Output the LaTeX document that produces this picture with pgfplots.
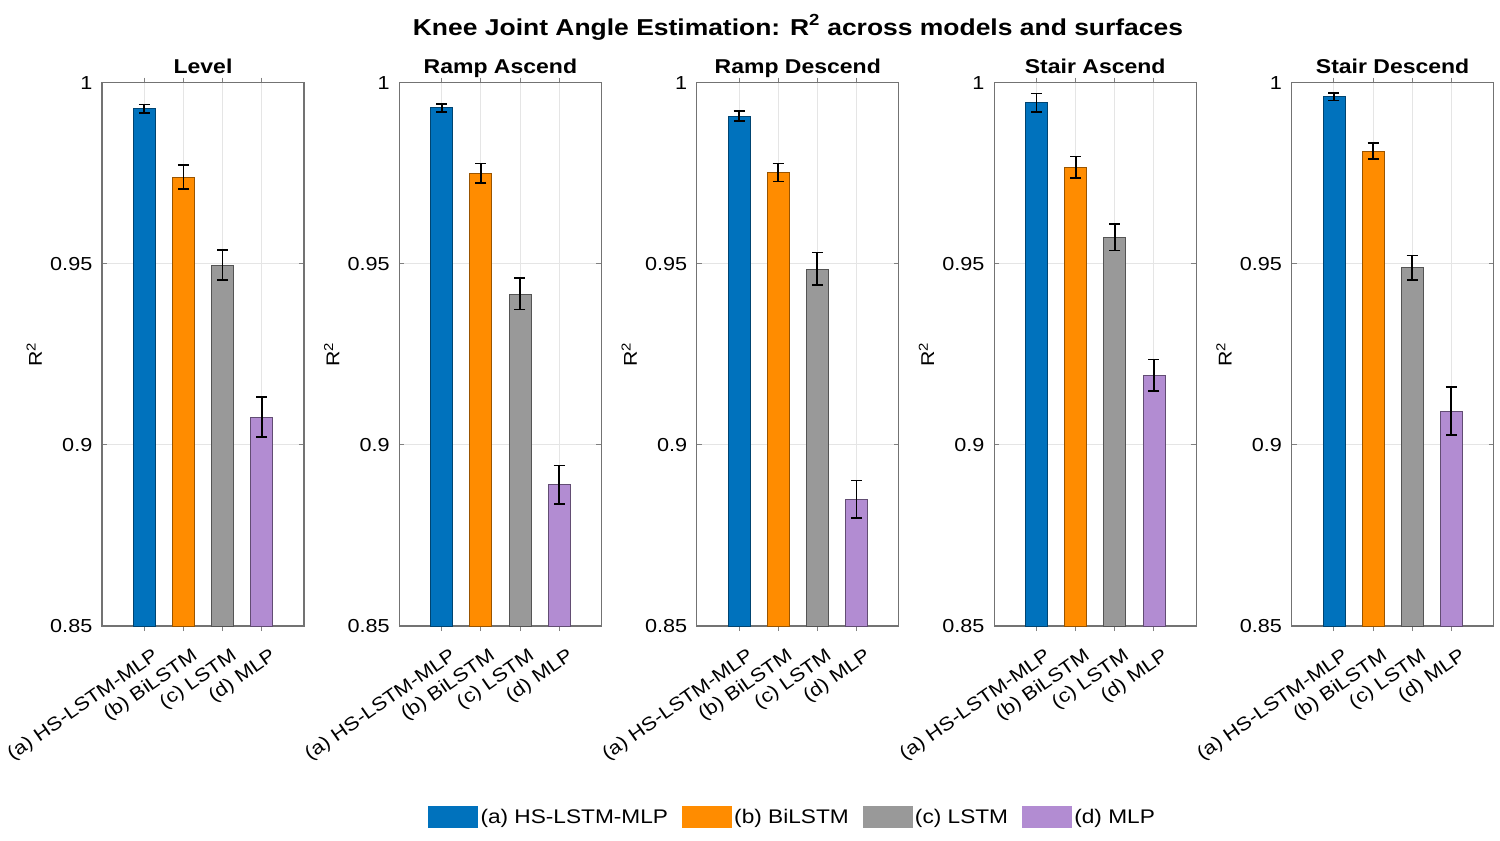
\documentclass[border=0pt]{standalone}
\usepackage{fontspec}
\setmainfont{Liberation Sans}[FakeStretch=1.15]
\usepackage{pgfplots}
\pgfplotsset{compat=1.18}
\definecolor{cA}{RGB}{0,114,189}
\definecolor{cB}{RGB}{255,140,0}
\definecolor{cC}{RGB}{153,153,153}
\definecolor{cD}{RGB}{178,140,210}
\pgfplotsset{
  panel/.style={
    scale only axis, width=202pt, height=543.3pt,
    anchor=south west,
    xmin=-0.08, xmax=5.08, ymin=0.85, ymax=1,
    xtick={1,2,3,4},
    xticklabels={(a) HS-LSTM-MLP,(b) BiLSTM,(c) LSTM,(d) MLP},
    ytick={0.85,0.9,0.95,1},
    yticklabels={0.85,0.9,0.95,1},
    tick align=inside, major tick length=5pt,
    major tick style={draw=black!50, line width=0.9pt},
    axis line style={draw=black!55, line width=1.1pt},
    grid=major, major grid style={draw=black!10, line width=0.9pt},
    tick label style={font=\fontsize{18.8}{22}\selectfont},
    y tick label style={inner sep=0pt, xshift=-9.5pt, anchor=east},
    x tick label style={rotate=35, anchor=north east, inner sep=1pt, yshift=-16pt, xshift=-2pt},
    title style={font=\bfseries\fontsize{20}{24}\selectfont, at={(0.5,1)}, anchor=base, yshift=3.5pt},
    ylabel={R\textsuperscript{2}},
    ylabel style={font=\fontsize{18.5}{22}\selectfont, at={(axis description cs:-0.335,0.5)}, anchor=center, rotate=0},
    ybar, bar width=22pt,
  },
  eb/.style={
    sharp plot, draw=none, mark=none, bar shift=0pt, forget plot,
    error bars/.cd, y dir=both, y explicit,
    error bar style={black, line width=1.8pt, draw=black},
    error mark=-,
    error mark options={rotate=90, black, draw=black, line width=1.8pt, mark size=5.5pt},
  },
  bA/.style={fill=cA, draw=cA!60!black, line width=0.7pt, bar shift=0pt,
    legend image code/.code={\fill[cA] (0pt,-10.6pt) rectangle (49pt,10.6pt);}},
  bB/.style={fill=cB, draw=cB!60!black, line width=0.7pt, bar shift=0pt,
    legend image code/.code={\fill[cB] (0pt,-10.6pt) rectangle (49pt,10.6pt);}},
  bC/.style={fill=cC, draw=cC!55!black, line width=0.7pt, bar shift=0pt,
    legend image code/.code={\fill[cC] (0pt,-10.6pt) rectangle (49pt,10.6pt);}},
  bD/.style={fill=cD, draw=cD!55!black, line width=0.7pt, bar shift=0pt,
    legend image code/.code={\fill[cD] (0pt,-10.6pt) rectangle (49pt,10.6pt);}},
}
\begin{document}
\begin{tikzpicture}
\useasboundingbox (0pt,0pt) rectangle (1500pt,-841pt);
\node[font=\bfseries\fontsize{23}{28}\selectfont, anchor=base] at (798pt,-35pt)
  {Knee Joint Angle Estimation: R\textsuperscript{2} across models and surfaces};

% Level
\begin{axis}[panel, at={(102pt,-626pt)}, title={Level},
  legend columns=4,
  legend style={draw=none, fill=none, inner sep=0pt,
    at={(axis description cs:1.6144,-0.351)}, anchor=west,
    font=\fontsize{19.7}{23}\selectfont,
    nodes={inner xsep=2.5pt, inner ysep=0pt},
    /tikz/every even column/.append style={column sep=11.5pt}}]
\addplot[bA] coordinates {(1,0.9928)};
\addplot[bB] coordinates {(2,0.9739)};
\addplot[bC] coordinates {(3,0.9497)};
\addplot[bD] coordinates {(4,0.9077)};
\addplot[eb] coordinates {(1,0.9928) +- (0,0.0012) (2,0.9739) +- (0,0.0033) (3,0.9497) +- (0,0.0042) (4,0.9077) +- (0,0.0055)};
\legend{(a) HS-LSTM-MLP,(b) BiLSTM,(c) LSTM,(d) MLP}
\end{axis}

% Ramp Ascend
\begin{axis}[panel, at={(399.4pt,-626pt)}, title={Ramp Ascend}]
\addplot[bA] coordinates {(1,0.9931)};
\addplot[bB] coordinates {(2,0.9750)};
\addplot[bC] coordinates {(3,0.9417)};
\addplot[bD] coordinates {(4,0.8890)};
\addplot[eb] coordinates {(1,0.9931) +- (0,0.0011) (2,0.9750) +- (0,0.0027) (3,0.9417) +- (0,0.0043) (4,0.8890) +- (0,0.0053)};
\end{axis}

% Ramp Descend
\begin{axis}[panel, at={(696.8pt,-626pt)}, title={Ramp Descend}]
\addplot[bA] coordinates {(1,0.9908)};
\addplot[bB] coordinates {(2,0.9752)};
\addplot[bC] coordinates {(3,0.9486)};
\addplot[bD] coordinates {(4,0.8850)};
\addplot[eb] coordinates {(1,0.9908) +- (0,0.0013) (2,0.9752) +- (0,0.0025) (3,0.9486) +- (0,0.0045) (4,0.8850) +- (0,0.0052)};
\end{axis}

% Stair Ascend
\begin{axis}[panel, at={(994.2pt,-626pt)}, title={Stair Ascend}]
\addplot[bA] coordinates {(1,0.9945)};
\addplot[bB] coordinates {(2,0.9766)};
\addplot[bC] coordinates {(3,0.9574)};
\addplot[bD] coordinates {(4,0.9192)};
\addplot[eb] coordinates {(1,0.9945) +- (0,0.0025) (2,0.9766) +- (0,0.0030) (3,0.9574) +- (0,0.0037) (4,0.9192) +- (0,0.0044)};
\end{axis}

% Stair Descend
\begin{axis}[panel, at={(1291.6pt,-626pt)}, title={Stair Descend}]
\addplot[bA] coordinates {(1,0.9961)};
\addplot[bB] coordinates {(2,0.9811)};
\addplot[bC] coordinates {(3,0.9489)};
\addplot[bD] coordinates {(4,0.9093)};
\addplot[eb] coordinates {(1,0.9961) +- (0,0.0010) (2,0.9811) +- (0,0.0022) (3,0.9489) +- (0,0.0034) (4,0.9093) +- (0,0.0066)};
\end{axis}
\end{tikzpicture}
\end{document}
